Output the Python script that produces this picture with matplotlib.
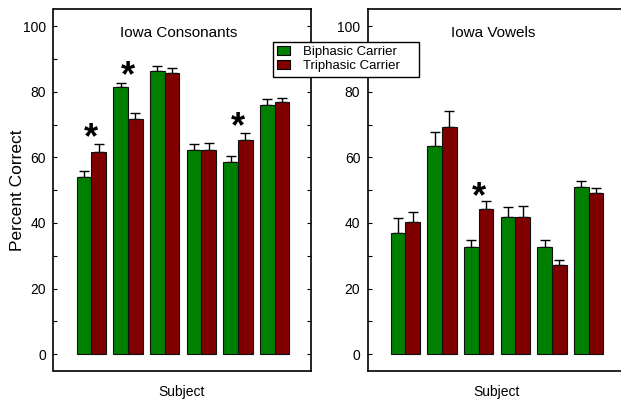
import matplotlib
matplotlib.use("Agg")
import matplotlib.pyplot as plt
import numpy as np
from matplotlib.ticker import MultipleLocator
from matplotlib.patches import Patch, Rectangle

plt.rcParams['font.family'] = ['Liberation Sans', 'DejaVu Sans']

subjects = np.arange(6)
series = ["Biphasic Carrier", "Triphasic Carrier"]
colors = ["#008000", "#800000"]

cons_bi = [54.0, 81.5, 86.2, 62.2, 58.5, 75.8]
cons_tri = [61.6, 71.7, 85.8, 62.3, 65.2, 76.8]
cons_bi_err = [1.7, 1.2, 1.5, 1.9, 2.0, 1.9]
cons_tri_err = [2.4, 1.8, 1.5, 2.0, 2.2, 1.4]
cons_star_groups = [0, 1, 4]
cons_star_y = [68.1, 87.2, 71.5]

vow_bi = [37.1, 63.4, 32.6, 41.8, 32.6, 50.9]
vow_tri = [40.2, 69.3, 44.2, 41.8, 27.1, 49.1]
vow_bi_err = [4.5, 4.3, 2.2, 3.0, 2.3, 1.8]
vow_tri_err = [3.2, 4.9, 2.5, 3.4, 1.7, 1.7]
vow_star_groups = [2]
vow_star_y = [50.4]

W, H = 621, 401
fig = plt.figure(figsize=(W / 100, H / 100), dpi=100)

ax_h = 362 / H
ax_b = (H - 371) / H
ax_w = 257 / W
ax1 = fig.add_axes([53.5 / W, ax_b, ax_w, ax_h])
ax2 = fig.add_axes([368 / W, ax_b, ax_w, ax_h])

bw = 0.4


def panel(ax, bi, tri, bi_err, tri_err, star_g, star_y, title, xlim):
    for vals, errs, off, c in [(bi, bi_err, -bw / 2, colors[0]), (tri, tri_err, bw / 2, colors[1])]:
        x = subjects + off
        ax.errorbar(x, vals, yerr=[np.zeros(len(vals)), errs], fmt='none',
                    ecolor='black', elinewidth=1.0, capsize=3.5, capthick=1.0, zorder=2)
        ax.bar(x, vals, width=bw, color=c, edgecolor='#111111', linewidth=0.8,
               zorder=3, bottom=0)
    for g, y in zip(star_g, star_y):
        ax.annotate('*', xy=(g, y), xytext=(0, -6), textcoords='offset points',
                    ha='center', va='center', fontsize=26, fontweight='bold', zorder=5)
    ax.set_ylim(-5.1, 105.2)
    ax.set_xlim(*xlim)
    ax.yaxis.set_major_locator(MultipleLocator(20))
    ax.yaxis.set_minor_locator(MultipleLocator(10))
    ax.tick_params(axis='y', which='both', direction='in', left=True, right=True,
                   labelsize=10, pad=5.5)
    ax.tick_params(axis='y', which='major', length=3, width=0.8)
    ax.tick_params(axis='y', which='minor', length=3, width=0.8)
    ax.set_xticks([])
    for s in ax.spines.values():
        s.set_linewidth(1.2)
    ax.text(0.488, 0.934, title, transform=ax.transAxes, ha='center', va='center',
            fontsize=11)
    ax.set_xlabel("Subject", fontsize=10, labelpad=10)


panel(ax1, cons_bi, cons_tri, cons_bi_err, cons_tri_err, cons_star_groups, cons_star_y,
      "Iowa Consonants", (-1.03, 5.98))
panel(ax2, vow_bi, vow_tri, vow_bi_err, vow_tri_err, vow_star_groups, vow_star_y,
      "Iowa Vowels", (-1.02, 5.99))
ax1.set_ylabel("Percent Correct", fontsize=12.5)
ax1.yaxis.set_label_coords(-0.111, 0.5)

frame = Rectangle((273 / W, 1 - 76.7 / H), 146.3 / W, 35 / H, transform=fig.transFigure,
                  facecolor='white', edgecolor='black', linewidth=1.0, zorder=4)
fig.patches.append(frame)

handles = [Patch(facecolor=c, edgecolor='black', linewidth=0.8) for c in colors]
leg = fig.legend(handles, series, loc='upper left',
                 bbox_to_anchor=(273 / W, 1 - 41.7 / H), borderaxespad=0,
                 fontsize=9.5, frameon=False, handlelength=1.0, handleheight=0.7,
                 handletextpad=1.0, borderpad=0.3, labelspacing=0.15)
leg.set_zorder(5)

fig.savefig("out.png", dpi=100)
